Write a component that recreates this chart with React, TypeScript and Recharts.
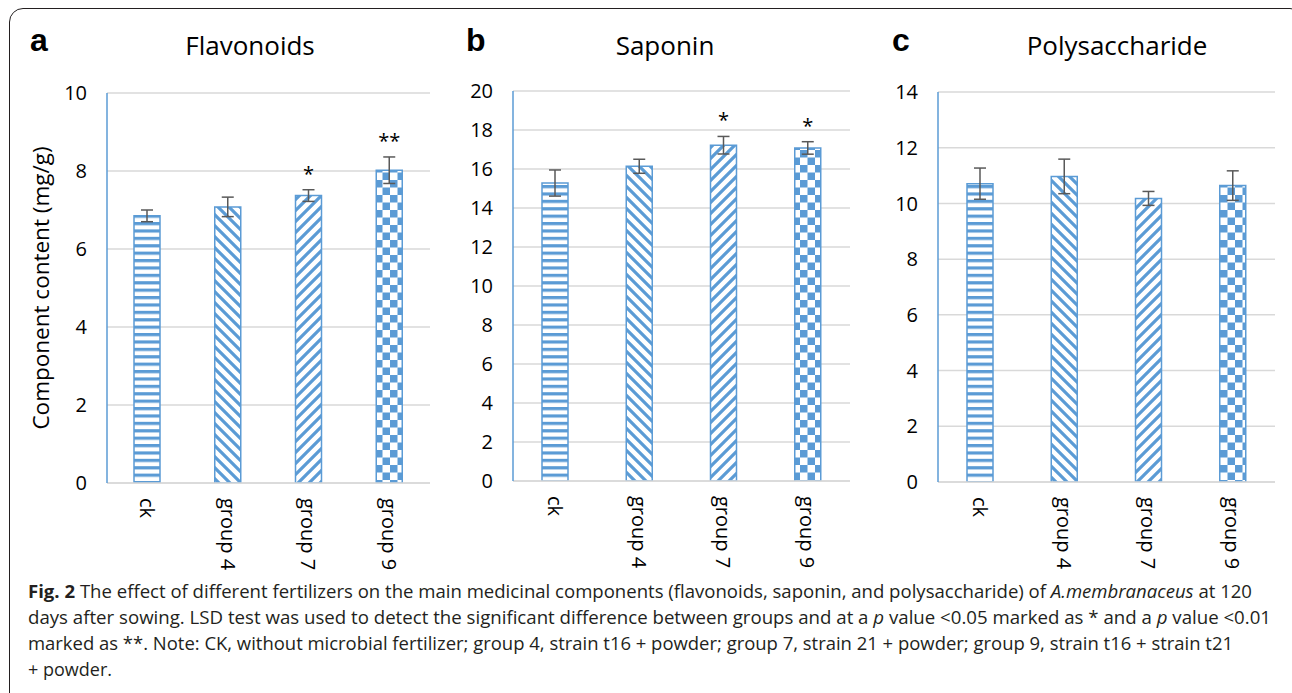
import { BarChart, Bar, XAxis, YAxis, CartesianGrid, ErrorBar, Cell, LabelList } from "recharts";

const groups = ["ck", "group 4", "group 7", "group 9"];

const flavonoidMean = [6.85, 7.08, 7.37, 8.02];
const flavonoidErr = [0.15, 0.25, 0.15, 0.34];
const flavonoidSig = ["", "", "*", "**"];

const saponinMean = [15.28, 16.14, 17.22, 17.08];
const saponinErr = [0.67, 0.36, 0.45, 0.32];
const saponinSig = ["", "", "*", "*"];

const polyMean = [10.71, 10.97, 10.18, 10.64];
const polyErr = [0.56, 0.62, 0.25, 0.53];
const polySig = ["", "", "", ""];

const flavonoidTicks = [0, 2, 4, 6, 8, 10];
const saponinTicks = [0, 2, 4, 6, 8, 10, 12, 14, 16, 18, 20];
const polyTicks = [0, 2, 4, 6, 8, 10, 12, 14];

const BLUE = "#5b9bd5";
const FONT = "'Open Sans', sans-serif";
const PATTERNS = ["hstripe", "bdiag", "fdiag", "check"];

function Patterns({ id }: { id: string }) {
  return (
    <defs>
      <pattern id={`${id}-hstripe`} width="8" height="7.4" patternUnits="userSpaceOnUse">
        <rect width="8" height="7.4" fill="#fff" />
        <rect y="0" width="8" height="3.2" fill={BLUE} />
      </pattern>
      <pattern id={`${id}-bdiag`} width="11" height="11" patternUnits="userSpaceOnUse">
        <rect width="11" height="11" fill="#fff" />
        <path d="M-3,-3 L14,14 M-3,8 L3,14 M8,-3 L14,3" stroke={BLUE} strokeWidth="3.2" />
      </pattern>
      <pattern id={`${id}-fdiag`} width="11" height="11" patternUnits="userSpaceOnUse">
        <rect width="11" height="11" fill="#fff" />
        <path d="M-3,14 L14,-3 M-3,3 L3,-3 M8,14 L14,8" stroke={BLUE} strokeWidth="3.2" />
      </pattern>
      <pattern id={`${id}-check`} width="15" height="15" patternUnits="userSpaceOnUse">
        <rect width="15" height="15" fill="#fff" />
        <rect width="7.5" height="7.5" fill={BLUE} />
        <rect x="7.5" y="7.5" width="7.5" height="7.5" fill={BLUE} />
      </pattern>
    </defs>
  );
}

function GroupTick(props: any) {
  const { x, y, payload } = props;
  return (
    <text
      x={x}
      y={y}
      transform={`rotate(90, ${x}, ${y})`}
      textAnchor="start"
      dominantBaseline="central"
      fontFamily={FONT}
      fontSize={20}
      fill="#000"
    >
      {payload.value}
    </text>
  );
}

interface PanelProps {
  id: string;
  mean: number[];
  err: number[];
  sig: string[];
  ticks: number[];
  left: number;
  width: number;
  margin: { top: number; right: number; left: number; bottom: number };
}

function Panel({ id, mean, err, sig, ticks, left, width, margin }: PanelProps) {
  const data = groups.map((g, i) => ({ name: g, value: mean[i], err: err[i], sig: sig[i] }));
  const max = ticks[ticks.length - 1];

  // significance stars sit just above the top of the error bar
  const renderSig = (p: any) => {
    const { x, y, width: w, height: h, index } = p;
    const label = sig[index];
    if (!label) return null;
    const errPx = (err[index] * h) / mean[index];
    return (
      <text
        x={x + w / 2}
        y={y - errPx - 9}
        textAnchor="middle"
        fontFamily={FONT}
        fontSize={20}
        fill="#000"
      >
        {label}
      </text>
    );
  };

  return (
    <div style={{ position: "absolute", left, top: 0 }}>
      <BarChart width={width} height={580} data={data} margin={margin}>
        <Patterns id={id} />
        <CartesianGrid vertical={false} stroke="#d9d9d9" strokeWidth={1.5} />
        <XAxis
          dataKey="name"
          axisLine={{ stroke: "#d9d9d9", strokeWidth: 1.5 }}
          tickLine={false}
          tickSize={0}
          tickMargin={15}
          height={90}
          tick={<GroupTick />}
          interval={0}
        />
        <YAxis
          domain={[0, max]}
          ticks={ticks}
          width={60}
          axisLine={{ stroke: BLUE, strokeWidth: 1.5 }}
          tickLine={false}
          tickSize={0}
          tickMargin={20}
          tick={{ fontFamily: FONT, fontSize: 20, fill: "#000" }}
          allowDataOverflow
        />
        <Bar dataKey="value" barSize={26} stroke={BLUE} strokeWidth={1.5} isAnimationActive={false}>
          {data.map((_, i) => (
            <Cell key={i} fill={`url(#${id}-${PATTERNS[i]})`} />
          ))}
          <ErrorBar
            dataKey="err"
            width={6}
            stroke="#595959"
            strokeWidth={1.5}
            direction="y"
            isAnimationActive={false}
          />
          <LabelList dataKey="sig" content={renderSig} />
        </Bar>
      </BarChart>
    </div>
  );
}

const panelLetter = { position: "absolute" as const, fontFamily: "'Liberation Sans', Arial, sans-serif", fontWeight: 700, fontSize: 32, lineHeight: "32px" };
const panelTitle = { position: "absolute" as const, fontFamily: FONT, fontSize: 26, lineHeight: "32px", transform: "translateX(-50%)", whiteSpace: "nowrap" as const };

function CaptionLine({ y, width, children }: { y: number; width?: number; children: any }) {
  return (
    <text
      x={28}
      y={y}
      textLength={width}
      lengthAdjust={width ? "spacingAndGlyphs" : undefined}
      fontFamily={FONT}
      fontSize={18}
      fill="#231f20"
    >
      {children}
    </text>
  );
}

export default function App() {
  return (
    <div style={{ position: "absolute", left: 0, top: 0, width: 1292, height: 693, background: "#fff", overflow: "hidden" }}>
      <div
        style={{
          position: "absolute",
          left: 9,
          top: 8,
          width: 1295,
          height: 700,
          border: "1.5px solid #231f20",
          borderRadius: 14,
          boxSizing: "border-box",
        }}
      />
      <Panel id="a" mean={flavonoidMean} err={flavonoidErr} sig={flavonoidSig} ticks={flavonoidTicks}
        left={0} width={440} margin={{ top: 93, right: 10, left: 47, bottom: 7 }} />
      <Panel id="b" mean={saponinMean} err={saponinErr} sig={saponinSig} ticks={saponinTicks}
        left={440} width={420} margin={{ top: 91, right: 10, left: 13, bottom: 9 }} />
      <Panel id="c" mean={polyMean} err={polyErr} sig={polySig} ticks={polyTicks}
        left={860} width={432} margin={{ top: 92, right: 17, left: 18, bottom: 8 }} />

      <div style={{ ...panelLetter, left: 30, top: 24 }}>a</div>
      <div style={{ ...panelLetter, left: 466, top: 24 }}>b</div>
      <div style={{ ...panelLetter, left: 892, top: 24 }}>c</div>
      <div style={{ ...panelTitle, left: 250, top: 29 }}>Flavonoids</div>
      <div style={{ ...panelTitle, left: 665, top: 29 }}>Saponin</div>
      <div style={{ ...panelTitle, left: 1117, top: 29 }}>Polysaccharide</div>

      <div
        style={{
          position: "absolute",
          left: 40,
          top: 288,
          transform: "translate(-50%, -50%) rotate(-90deg)",
          fontFamily: FONT,
          fontSize: 22.5,
          whiteSpace: "nowrap",
        }}
      >
        Component content (mg/g)
      </div>

      <svg style={{ position: "absolute", left: 0, top: 560 }} width={1292} height={133}>
        <CaptionLine y={38} width={1224}>
          <tspan fontWeight={700}>Fig. 2</tspan> The effect of different fertilizers on the main medicinal components (flavonoids, saponin, and polysaccharide) of <tspan fontStyle="italic">A.membranaceus</tspan> at 120
        </CaptionLine>
        <CaptionLine y={64} width={1243}>
          days after sowing. LSD test was used to detect the significant difference between groups and at a <tspan fontStyle="italic">p</tspan> value &lt;0.05 marked as * and a <tspan fontStyle="italic">p</tspan> value &lt;0.01
        </CaptionLine>
        <CaptionLine y={90} width={1205}>
          marked as **. Note: CK, without microbial fertilizer; group 4, strain t16 + powder; group 7, strain 21 + powder; group 9, strain t16 + strain t21
        </CaptionLine>
        <CaptionLine y={116}>+ powder.</CaptionLine>
      </svg>
    </div>
  );
}
